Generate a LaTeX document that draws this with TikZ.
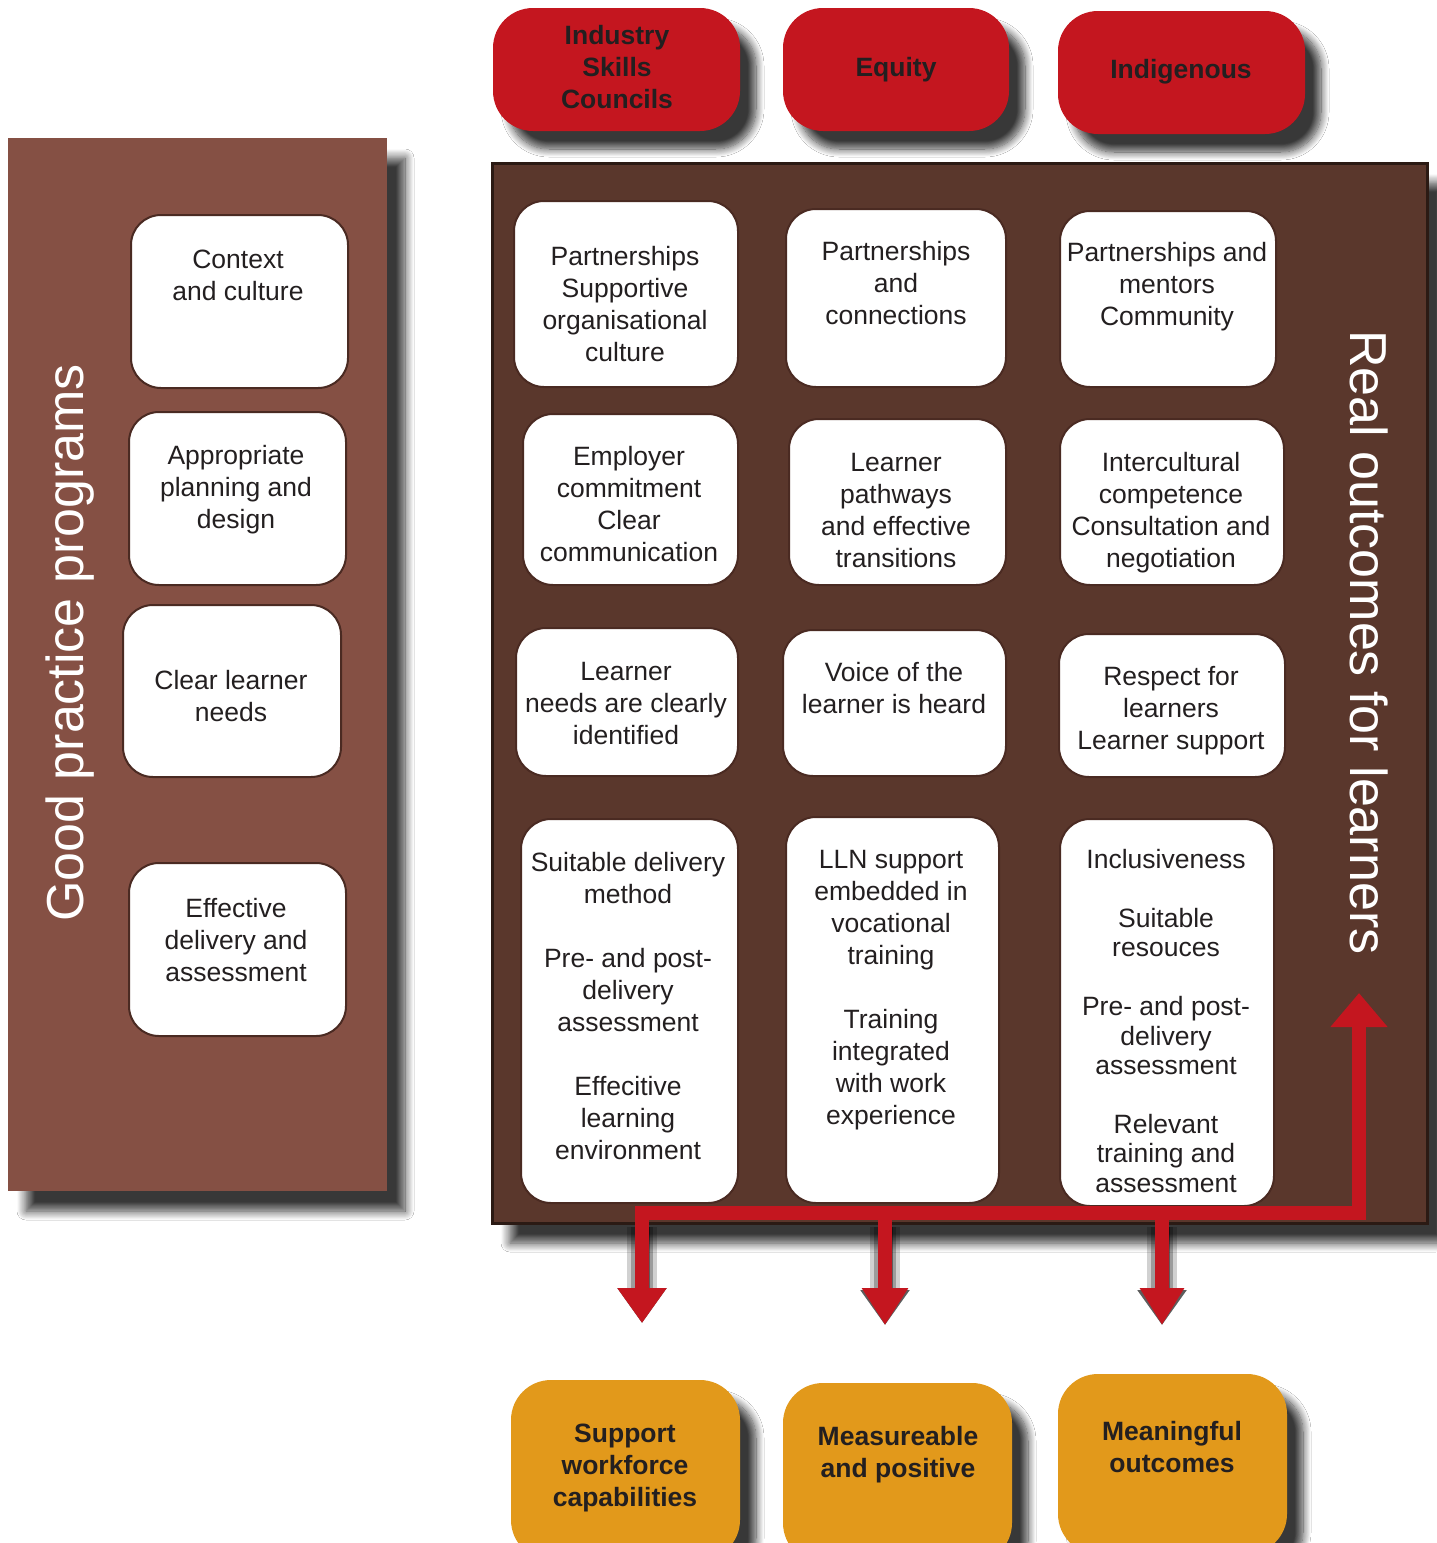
\documentclass[tikz,border=0pt]{standalone}
\usepackage{fontspec}
\setmainfont{Liberation Sans}
\usetikzlibrary{shadows.blur,arrows.meta}
\definecolor{cRed}{HTML}{C4161F}
\definecolor{cOrange}{HTML}{E2991B}
\definecolor{cLeft}{HTML}{855044}
\definecolor{cMain}{HTML}{5A372C}
\definecolor{cText}{HTML}{231F20}
\definecolor{cWBorder}{HTML}{4A2A22}
\definecolor{cPanelBorder}{HTML}{2B1A14}
\newcommand\boxfont{\fontsize{26.5}{32}\selectfont}
\newcommand\titlefont{\fontsize{52}{60}\selectfont}
\tikzset{
  shad/.style={blur shadow={shadow xshift=16pt, shadow yshift=-18pt, shadow blur radius=8pt, shadow blur steps=12, shadow opacity=78}},
  panelshad/.style={blur shadow={shadow xshift=18pt, shadow yshift=-20pt, shadow blur radius=9pt, shadow blur steps=12, shadow opacity=78}},
  lpanel/.style={shape=rectangle, fill=cLeft, inner sep=0pt, panelshad},
  mpanel/.style={shape=rectangle, fill=cMain, draw=cPanelBorder, line width=3pt, inner sep=0pt, panelshad},
  rbox/.style={shape=rectangle, rounded corners=40pt, fill=cRed, inner sep=0pt, shad},
  obox/.style={shape=rectangle, rounded corners=40pt, fill=cOrange, inner sep=0pt, shad},
  wbox/.style={shape=rectangle, rounded corners=30pt, fill=white, draw=cWBorder, line width=2pt, inner sep=0pt},
  wtext/.style={font=\boxfont, text=cText, align=center, inner sep=0pt},
  btext/.style={font=\bfseries\boxfont, text=cText, align=center, inner sep=0pt},
  title/.style={font=\titlefont, text=white, inner sep=0pt},
  redline/.style={draw=cRed, line width=14pt, line join=miter},
  arrowshadow/.style={draw=black, line join=round},
}
\begin{document}
\begin{tikzpicture}[x=1pt,y=-1pt]
\useasboundingbox (0,0) rectangle (1436,1543);
\fill[white] (0,0) rectangle (1436,1543);

% panels
\node[lpanel, minimum width=379pt, minimum height=1053pt] (lp) at (197.5,664.5) {};
\node[mpanel, minimum width=935pt, minimum height=1060pt] (mp) at (959.5,693) {};

% top red boxes
\node[rbox, minimum width=247pt, minimum height=123pt] (r1) at (616.5,69.5) {};
\node[rbox, minimum width=226pt, minimum height=123pt] (r2) at (896,69.5) {};
\node[rbox, minimum width=247pt, minimum height=123pt] (r3) at (1181.5,72.5) {};
\node[btext] (r1t) at (617,67) {Industry\\Skills\\Councils};
\node[btext] (r2t) at (896,70) {Equity};
\node[btext] (r3t) at (1181,72) {Indigenous};

% left boxes
\node[wbox, minimum width=217pt, minimum height=173pt] (l1) at (239.5,301.5) {};
\node[wbox, minimum width=217pt, minimum height=173pt] (l2) at (237.5,498.5) {};
\node[wbox, minimum width=218pt, minimum height=172pt] (l3) at (232,691) {};
\node[wbox, minimum width=217pt, minimum height=173pt] (l4) at (237.5,949.5) {};
\node[wtext] (l1t) at (238,275) {Context\\and culture};
\node[wtext] (l2t) at (236,490) {Appropriate\\planning and\\design};
\node[wtext] (l3t) at (231,696) {Clear learner\\needs};
\node[wtext] (l4t) at (236,940) {Effective\\delivery and\\assessment};

% main boxes
\node[wbox, minimum width=224pt, minimum height=186pt] (m11) at (626,294) {};
\node[wbox, minimum width=220pt, minimum height=178pt] (m12) at (896,298) {};
\node[wbox, minimum width=216pt, minimum height=176pt] (m13) at (1168,299) {};
\node[wbox, minimum width=215pt, minimum height=171pt] (m21) at (630.5,499.5) {};
\node[wbox, minimum width=217pt, minimum height=166pt] (m22) at (897.5,502) {};
\node[wbox, minimum width=224pt, minimum height=166pt] (m23) at (1172,502) {};
\node[wbox, minimum width=222pt, minimum height=148pt] (m31) at (627,702) {};
\node[wbox, minimum width=223pt, minimum height=146pt] (m32) at (894.5,703) {};
\node[wbox, minimum width=226pt, minimum height=143pt] (m33) at (1172,705.5) {};
\node[wbox, minimum width=217pt, minimum height=384pt] (m41) at (629.5,1011) {};
\node[wbox, minimum width=213pt, minimum height=386pt] (m42) at (892.5,1010) {};
\node[wbox, minimum width=214pt, minimum height=387pt] (m43) at (1167,1012.5) {};

\node[wtext] (m11t) at (625,304) {Partnerships\\Supportive\\organisational\\culture};
\node[wtext] (m12t) at (896,283) {Partnerships\\and\\connections};
\node[wtext] (m13t) at (1167,287) {Partnerships and\\mentors\\Community};
\node[wtext] (m21t) at (629,504) {Employer\\commitment\\Clear\\communication};
\node[wtext] (m22t) at (896,511) {Learner\\pathways\\and effective\\transitions};
\node[wtext] (m23t) at (1171,513) {Intercultural\\competence\\Consultation and\\negotiation};
\node[wtext] (m31t) at (626,704) {Learner\\needs are clearly\\identified};
\node[wtext] (m32t) at (894,688) {Voice of the\\learner is heard};
\node[wtext] (m33t) at (1171,711) {Respect for\\learners\\Learner support};
\node[wtext] (m41t) at (628,1006) {Suitable delivery\\method\\[32pt]Pre- and post-\\delivery\\assessment\\[32pt]Effecitive\\learning\\environment};
\node[wtext] (m42t) at (891,990) {LLN support\\embedded in\\vocational\\training\\[32pt]Training\\integrated\\with work\\experience};
\node[wtext, font=\fontsize{26.5}{29.4}\selectfont] (m43t) at (1166,1021) {Inclusiveness\\[29.4pt]Suitable\\resouces\\[29.4pt]Pre- and post-\\delivery\\assessment\\[29.4pt]Relevant\\training and\\assessment};

% arrows
\coordinate (jL) at (642,1213);
\coordinate (jM) at (885,1213);
\coordinate (jR) at (1162,1213);
\coordinate (jU) at (1359,1213);
\coordinate (tL) at (642,1323);
\coordinate (tM) at (885,1325);
\coordinate (tR) at (1162,1325);
\coordinate (tU) at (1359,993);

% arrow shadows
\begin{scope}[xshift=17pt, yshift=-13pt]
  \foreach \w/\o in {30/0.18, 22/0.25, 15/0.4}{
    \draw[arrowshadow, line width=\w pt, opacity=\o, -{Triangle[width=47pt,length=35pt]}] ([yshift=-14pt]jL) -- (tL);
    \draw[arrowshadow, line width=\w pt, opacity=\o, -{Triangle[width=47pt,length=35pt]}] ([yshift=-14pt]jM) -- (tM);
    \draw[arrowshadow, line width=\w pt, opacity=\o, -{Triangle[width=47pt,length=35pt]}] ([yshift=-14pt]jR) -- (tR);
  }
\end{scope}

\draw[redline, {Triangle[width=47pt,length=35pt]}-{Triangle[width=55pt,length=34pt]}] (tL) -- (jL) -- (jU) -- (tU);
\draw[redline, -{Triangle[width=44pt,length=37pt]}] (jM) -- (tM);
\draw[redline, -{Triangle[width=42pt,length=37pt]}] (jR) -- (tR);

% bottom orange boxes
\node[obox, minimum width=229pt, minimum height=180pt] (o1) at (625.5,1470) {};
\node[obox, minimum width=229pt, minimum height=180pt] (o2) at (897.5,1473) {};
\node[obox, minimum width=229pt, minimum height=180pt] (o3) at (1172.5,1464) {};
\node[btext] (o1t) at (625,1468) {Support\\workforce\\capabilities};
\node[btext] (o2t) at (898,1455) {Measureable\\and positive};
\node[btext] (o3t) at (1172,1447) {Meaningful\\outcomes};

% titles
\node[title, rotate=90, anchor=base west] (gp) at (83,922) {Good practice programs};
\node[title, rotate=-90, anchor=base west] (ro) at (1350,330) {Real outcomes for learners};
\end{tikzpicture}
\end{document}
